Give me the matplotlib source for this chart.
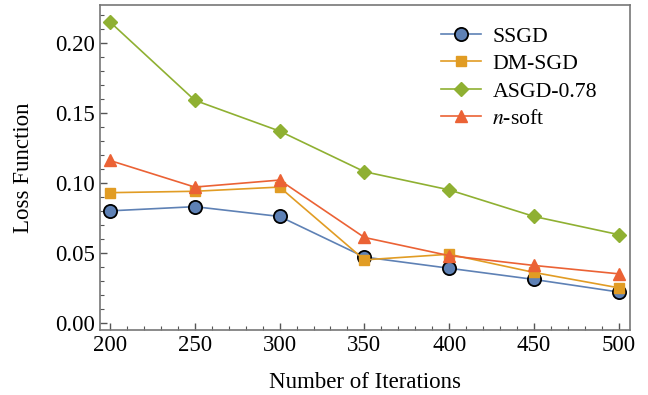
import numpy as np
import matplotlib.pyplot as plt
from matplotlib.ticker import MultipleLocator

plt.rcParams['font.family'] = ['Liberation Serif', 'DejaVu Serif']
plt.rcParams['mathtext.fontset'] = 'stix'

iterations = [200, 250, 300, 350, 400, 450, 500]
ssgd = [0.080, 0.083, 0.076, 0.047, 0.039, 0.031, 0.022]
dm_sgd = [0.093, 0.094, 0.097, 0.045, 0.049, 0.036, 0.025]
asgd = [0.215, 0.159, 0.137, 0.108, 0.095, 0.076, 0.063]
n_soft = [0.116, 0.097, 0.102, 0.061, 0.048, 0.041, 0.035]

fig = plt.figure(figsize=(6.48, 3.95), dpi=100)
ax = fig.add_axes([0.154, 0.165, 0.818, 0.822])

ax.plot(iterations, ssgd, color="#5E81B5", lw=1.2, marker="o", ms=9.5,
        mfc="#5E81B5", mec="black", mew=1.3, label="SSGD", zorder=3)
ax.plot(iterations, dm_sgd, color="#E19C24", lw=1.2, marker="s", ms=6.5,
        mec="#E19C24", label="DM-SGD", zorder=4)
ax.plot(iterations, asgd, color="#8FB032", lw=1.2, marker="D", ms=7,
        mec="#8FB032", label="ASGD-0.78", zorder=4)
ax.plot(iterations, n_soft, color="#EB6235", lw=1.2, marker="^", ms=9,
        mec="#EB6235", label="$n$-soft", zorder=5)

ax.set_xlim(194, 506.5)
ax.set_ylim(-0.005, 0.227)
ax.set_xticks(iterations)
ax.set_yticks([0.0, 0.05, 0.10, 0.15, 0.20])
ax.set_yticklabels(["0.00", "0.05", "0.10", "0.15", "0.20"])
ax.xaxis.set_minor_locator(MultipleLocator(10))
ax.yaxis.set_minor_locator(MultipleLocator(0.01))
ax.tick_params(which="both", direction="in", top=False, right=False,
               color="#555555", labelsize=16.5)
ax.tick_params(which="major", length=5, width=1)
ax.tick_params(which="minor", length=3, width=0.8)
for s in ax.spines.values():
    s.set_color("#777777")
    s.set_linewidth(1.2)

ax.set_xlabel("Number of Iterations", fontsize=16.5, labelpad=12)
ax.set_ylabel("Loss Function", fontsize=16.5, labelpad=15)

ax.legend(loc="upper right", bbox_to_anchor=(0.975, 0.995), frameon=False,
          fontsize=15.7, handlelength=1.85, handletextpad=0.5,
          labelspacing=0.33)

fig.savefig("out.png", dpi=100)
